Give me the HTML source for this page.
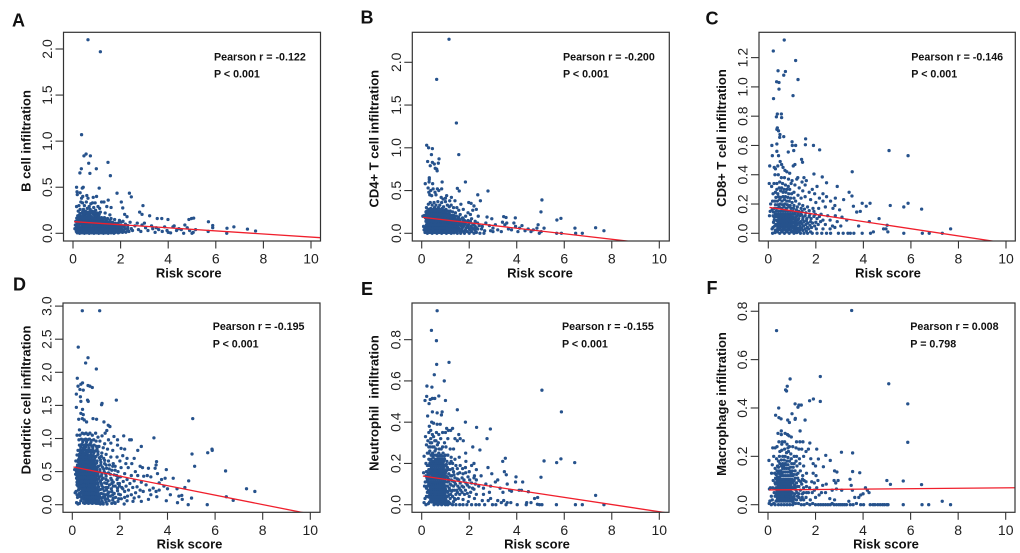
<!DOCTYPE html>
<html lang="en">
<head>
<meta charset="utf-8">
<title>Risk score versus immune cell infiltration</title>
<style>
html,body{margin:0;padding:0;background:#fff;width:1020px;height:553px;overflow:hidden}
svg{display:block}
text{font-family:"Liberation Sans",Arial,sans-serif}
</style>
</head>
<body>
<svg id="figure" xmlns="http://www.w3.org/2000/svg" width="1020" height="553" viewBox="0 0 1020 553"></svg>
<script>
const xTicks = [0,2,4,6,8,10];
const yTicksA = [0,0.5,1,1.5,2];
const yTicksB = [0,0.5,1,1.5,2];
const yTicksC = [0,0.2,0.4,0.6,0.8,1,1.2];
const yTicksD = [0,0.5,1,1.5,2,2.5,3];
const yTicksE = [0,0.2,0.4,0.6,0.8];
const yTicksF = [0,0.2,0.4,0.6,0.8];

const lineA = [0.127,-0.0168];
const lineB = [0.188,-0.0322];
const lineC = [0.178,-0.0245];
const lineD = [0.573,-0.0714];
const lineE = [0.14,-0.0174];
const lineF = [0.061,0.00087];

const pointsA = [[.63,2.1],[1.15,1.97],[.36,1.07],[.55,.86],[.46,.84],[.73,.84],[1.47,.77],[.66,.76],[.35,.7],[.29,.655],[.71,.65],[.98,.7],[1.57,.625],[.15,.5],[.43,.5],[.39,.49],[1.1,.49],[1.85,.435],[2.37,.435],[2.45,.395],[2.03,.34],[2.94,.3],[2.09,.275],[2.8,.23],[2.9,.205],[2.17,.205],[2.27,.18],[3.22,.19],[3.54,.16],[3.73,.16],[3.99,.15],[4.87,.15],[4.98,.16],[5.07,.165],[5.69,.125],[5.87,.085],[5.87,.06],[6.47,.055],[6.76,.07],[7.33,.045],[7.67,.025],[6.46,0],
[.17,.45],[.18,.42],[.3,.44],[.36,.38],[.41,.4],[.58,.41],[.63,.38],[.85,.39],[.99,.4],[1.48,.36],[1.2,.34],[1.3,.34],[1.42,.29],[1.6,.28],[.15,.29],[.25,.3],[.33,.34],[.4,.33],[.48,.3],[.56,.34],[.68,.29],[.75,.32],[.82,.33],[.93,.33],[1.05,.29],[1.12,.27],[.22,.24],[.3,.26],[.37,.22],[.44,.26],[.5,.24],[.6,.27],[.66,.23],[.72,.26],[.8,.24],[.87,.28],[.95,.25],[1.03,.22],[1.15,.23],[1.35,.22],[1.55,.2],[.2,.19],[.27,.2],[.34,.18],[.42,.2],[.48,.19],[.54,.21],[.62,.19],[.7,.2],[.77,.18],[.84,.21],[.91,.19],[.99,.18],[1.08,.18],[1.2,.17],[1.32,.17],[1.45,.16],[1.6,.16],[1.75,.15],[1.95,.14],
[.12,.13],[.2,.14],[.28,.15],[.36,.14],[.44,.15],[.52,.15],[.6,.14],[.68,.15],[.76,.14],[.84,.15],[.92,.14],[1,.14],[1.08,.14],[1.16,.13],[1.24,.14],[1.32,.12],[1.4,.13],[1.48,.12],[1.56,.12],[1.66,.12],[1.78,.11],[1.9,.11],[2.02,.12],
[.1,.09],[.18,.1],[.26,.1],[.34,.1],[.42,.1],[.5,.1],[.58,.1],[.66,.1],[.74,.1],[.82,.1],[.9,.1],[.98,.1],[1.06,.1],[1.14,.1],[1.22,.09],[1.3,.09],[1.38,.09],[1.46,.09],[1.54,.08],[1.62,.09],[1.72,.08],[1.82,.08],[1.94,.08],[2.06,.08],[2.2,.09],
[.08,.05],[.16,.06],[.24,.07],[.32,.06],[.4,.07],[.48,.06],[.56,.07],[.64,.06],[.72,.07],[.8,.06],[.88,.07],[.96,.06],[1.04,.07],[1.12,.06],[1.2,.06],[1.28,.06],[1.36,.05],[1.44,.06],[1.52,.05],[1.6,.06],[1.7,.05],[1.8,.05],[1.92,.05],[2.04,.05],[2.18,.05],
[.14,.02],[.22,.03],[.3,.03],[.38,.03],[.46,.03],[.54,.03],[.62,.03],[.7,.03],[.78,.03],[.86,.03],[.94,.03],[1.02,.03],[1.1,.03],[1.18,.03],[1.26,.03],[1.34,.03],[1.42,.02],[1.5,.03],[1.58,.02],[1.66,.03],[1.76,.02],[1.88,.02],[2,.02],[2.12,.02],[.18,.005],[.28,0],[.38,.005],[.48,0],[.58,.005],[.68,0],[.78,.005],[.88,0],[.98,.005],[1.08,0],[1.18,.005],[1.28,0],[1.38,.005],[1.48,0],[1.6,.005],[1.72,0],[1.9,.005],
[2.1,.13],[2.2,.1],[2.3,.06],[2.4,.12],[2.5,.03],[2.6,.08],[2.7,.11],[2.75,.04],[2.85,.02],[2.9,.09],[3,.11],[3.05,.06],[3.15,.03],[3.3,.08],[3.35,.05],[3.45,.01],[3.5,.06],[3.6,.04],[3.75,.02],[3.85,.07],[3.95,.03],[4,.01],[4.1,.005],[4.2,.07],[4.25,.08],[4.35,.03],[4.45,.05],[4.55,.04],[4.65,0],[4.7,.09],[4.8,.06],[4.9,.03],[5,0],[5.05,.01],[5.15,.04],[5.68,.02]];

const denseA = [[.22,.015],[.33,.012],[.41,.018],[.53,.014],[.61,.016],[.74,.012],[.83,.017],[.92,.014],[1.01,.016],[1.13,.012],[1.24,.015],[1.33,.014],[1.46,.012],[1.55,.016],[1.68,.012],[1.79,.011],[1.95,.012],[2.08,.01],[2.22,.012],[2.35,.02],
[.13,.04],[.27,.045],[.35,.048],[.44,.043],[.57,.046],[.66,.042],[.75,.047],[.87,.045],[.97,.044],[1.06,.047],[1.17,.043],[1.25,.046],[1.39,.04],[1.48,.044],[1.57,.04],[1.74,.036],[1.86,.038],[1.99,.037],[2.13,.036],[2.3,.035],[2.45,.05],
[.15,.075],[.23,.085],[.37,.082],[.46,.084],[.54,.08],[.63,.085],[.71,.082],[.85,.083],[.94,.08],[1.03,.085],[1.11,.078],[1.27,.075],[1.35,.076],[1.44,.072],[1.58,.07],[1.67,.068],[1.76,.068],[1.88,.066],[2,.07],[2.15,.072],[2.3,.085],
[.17,.115],[.29,.12],[.38,.12],[.47,.125],[.55,.12],[.65,.125],[.73,.12],[.81,.125],[.9,.12],[1,.125],[1.09,.12],[1.2,.115],[1.3,.105],[1.43,.105],[1.52,.1],[1.63,.105],[1.74,.1],[1.86,.095],
[.16,.165],[.24,.17],[.31,.165],[.38,.17],[.46,.17],[.52,.175],[.58,.165],[.66,.17],[.73,.165],[.8,.17],[.87,.165],[.95,.16],[1.03,.16],[1.15,.155],[1.28,.15],[1.4,.145],[1.55,.14],
[.3,.215],[.41,.235],[.47,.215],[.55,.235],[.63,.215],[.75,.225],[.84,.235],[.92,.22],[1,.205],[1.1,.205]];

const pointsB = [[1.15,2.27],[.63,1.8],[1.46,1.29],[.21,1.03],[.29,1],[.45,.99],[1.56,.92],[.41,.92],[.73,.87],[.25,.84],[.45,.83],[.53,.81],[.7,.82],[.36,.79],[.57,.76],[.63,.75],[.65,.73],[.32,.65],[.32,.63],[.31,.6],[.86,.6],[1.84,.6],[.15,.58],[.46,.58],[1.5,.525],[1.58,.495],[.27,.53],[2.79,.495],[5.06,.39],[2.36,.45],[5.02,.25],[2.47,.38],[5.69,.155],[5.86,.175],[7.32,.065],[7.67,.03],[6.45,.06],[6.48,0],[6.76,0],[5.68,0],[5.88,0],[2.75,.19],[2.95,.17],[3.45,.195],[3.55,.185],[3.94,.18],[5.15,.06],[4.9,.1],
[.3,.48],[.38,.5],[.48,.52],[.56,.48],[.66,.52],[.72,.5],[.84,.52],[.34,.45],[.42,.44],[.6,.45],[.82,.42],[1.05,.44],[1.25,.42],[.9,.4],[1,.41],[1.18,.38],[1.4,.38],[1.65,.34],[1.98,.36],[2.08,.35],[2.2,.32],[2.15,.27],[2.3,.28],[1.95,.24],[2.05,.22],[2.38,.2],
[.2,.3],[.28,.34],[.36,.36],[.44,.33],[.52,.36],[.6,.33],[.68,.37],[.76,.33],[.84,.36],[.92,.31],[1,.37],[1.08,.33],[1.16,.31],[1.24,.33],[1.34,.3],[1.48,.3],[1.56,.27],[1.75,.28],[.22,.26],[.3,.28],[.38,.29],[.46,.28],[.54,.3],[.62,.28],[.7,.3],[.78,.28],[.86,.29],[.94,.27],[1.02,.28],[1.1,.26],[1.2,.26],[1.3,.25],[1.42,.24],[1.62,.22],[1.85,.2],
[.12,.21],[.2,.22],[.28,.24],[.36,.24],[.44,.24],[.52,.25],[.6,.24],[.68,.25],[.76,.24],[.84,.24],[.92,.23],[1,.24],[1.08,.22],[1.16,.23],[1.24,.21],[1.34,.21],[1.46,.2],[1.56,.19],[1.72,.18],[.05,.2],[.16,.18],[.24,.2],[.32,.2],[.4,.2],[.48,.2],[.56,.2],[.64,.2],[.72,.2],[.8,.2],[.88,.19],[.96,.2],[1.04,.18],[1.12,.19],[1.2,.18],[1.3,.17],[1.4,.17],[1.5,.16],[1.62,.16],[1.8,.15],[1.95,.15],[2.1,.17],[2.25,.14],
[.2,.15],[.28,.16],[.36,.16],[.44,.16],[.52,.16],[.6,.16],[.68,.16],[.76,.16],[.84,.16],[.92,.15],[1,.16],[1.08,.15],[1.16,.15],[1.26,.14],[1.36,.14],[1.46,.13],[1.58,.13],[1.7,.12],[1.84,.12],[2,.12],[2.15,.11],[2.35,.12],[.24,.12],[.32,.12],[.4,.12],[.48,.12],[.56,.12],[.64,.12],[.72,.12],[.8,.12],[.88,.12],[.96,.12],[1.04,.12],[1.12,.12],[1.22,.11],[1.32,.11],[1.42,.1],[1.54,.1],[1.66,.09],[1.78,.09],[1.92,.09],[2.08,.08],[2.25,.08],[2.42,.09],
[.08,.08],[.16,.07],[.26,.08],[.34,.08],[.42,.08],[.5,.08],[.58,.08],[.66,.08],[.74,.08],[.82,.08],[.9,.08],[.98,.08],[1.06,.08],[1.14,.08],[1.24,.07],[1.34,.07],[1.46,.06],[1.58,.06],[1.7,.05],[1.86,.06],[2,.05],[2.18,.05],[2.36,.05],[2.52,.05],[.1,.04],[.2,.04],[.3,.04],[.38,.04],[.46,.04],[.54,.04],[.62,.04],[.7,.04],[.78,.04],[.86,.04],[.94,.04],[1.02,.04],[1.12,.04],[1.22,.03],[1.34,.03],[1.48,.02],[1.62,.02],[1.76,.02],[1.92,.02],[2.1,.02],[2.3,.01],[.14,.01],[.24,0],[.34,.01],[.44,0],[.54,.01],[.64,0],[.74,.01],[.84,0],[.94,.01],[1.04,0],[1.14,.01],[1.24,0],[1.36,.005],[1.5,0],[1.64,0],[1.8,0],[2,0],[2.2,0],[2.45,0],[2.62,0],
[2.55,.08],[2.7,.12],[2.85,.09],[2.9,.03],[3,.06],[3.1,.1],[3.2,.04],[3.35,.02],[3.4,.13],[3.5,.1],[3.58,.12],[3.65,.05],[3.78,.04],[3.88,.12],[3.95,.08],[4.05,.02],[4.12,.06],[4.22,.09],[4.35,.03],[4.48,.05],[4.6,.02],[4.7,.04],[4.85,.06],[4.95,0],[5.03,.02],[3,.02],[2.65,.03]];

const denseB = [[.22,.02],[.33,.022],[.41,.024],[.5,.02],[.6,.024],[.69,.021],[.8,.023],[.9,.02],[1,.024],[1.09,.02],[1.2,.018],[1.3,.016],[1.42,.015],[1.55,.04],[1.68,.035],[1.84,.035],[2.05,.035],[2.25,.035],
[.14,.06],[.28,.06],[.37,.062],[.47,.058],[.56,.062],[.65,.06],[.76,.058],[.85,.062],[.95,.06],[1.05,.058],[1.17,.055],[1.29,.05],[1.42,.045],[1.52,.08],[1.72,.07],[1.95,.07],[2.12,.065],[2.3,.065],
[.2,.1],[.3,.1],[.39,.102],[.49,.098],[.58,.102],[.68,.1],[.78,.098],[.87,.102],[.97,.1],[1.08,.098],[1.19,.095],[1.3,.09],[1.4,.085],[1.6,.11],[1.8,.105],[1.98,.105],[2.2,.1],
[.18,.14],[.3,.14],[.41,.14],[.5,.14],[.6,.14],[.7,.142],[.8,.14],[.9,.135],[1,.138],[1.12,.135],[1.22,.13],[1.33,.125],[1.45,.115],[1.6,.145],[1.75,.14],[1.9,.135],[2.05,.14],
[.22,.18],[.34,.18],[.43,.18],[.52,.18],[.62,.18],[.7,.18],[.78,.18],[.86,.175],[.98,.175],[1.1,.17],[1.25,.16],[1.38,.155],[1.55,.175],[1.75,.165],
[.18,.25],[.26,.22],[.35,.22],[.42,.22],[.5,.22],[.58,.22],[.66,.22],[.75,.22],[.83,.22],[.9,.21],[1,.21],[1.12,.21],[1.24,.19],[1.36,.19],
[.26,.26],[.35,.27],[.42,.26],[.5,.27],[.58,.26],[.66,.27],[.74,.26],[.82,.265],[.9,.25],[1.04,.255],[1.15,.25]];

const pointsC = [[.67,1.32],[.21,1.245],[1.15,1.18],[.41,1.11],[.72,1.105],[.65,1.08],[1.25,1.05],[.35,1.035],[.45,1.03],[.45,.985],[.22,.92],[1.04,.94],[.38,.815],[.55,.815],[.34,.795],[.56,.79],[.38,.72],[.36,.71],[.43,.7],[.49,.675],[.48,.655],[.65,.66],[1,.625],[1.57,.645],[1.56,.605],[1.9,.6],[2.16,.57],[1.01,.6],[1.15,.6],[.15,.6],[.36,.61],[.36,.56],[.17,.53],[.43,.53],[.84,.555],[1.07,.565],[1.4,.505],[1.44,.485],[5.08,.565],[5.88,.53],[3.53,.42],[1.92,.405],[2.27,.385],[.06,.46],[2.45,.345],[2.9,.32],[.04,.34],[3.95,.205],[4.28,.205],[4.12,.185],[5.13,.19],[5.7,.18],[5.88,.205],[6.45,.165],[7.67,.03],[7.32,0],[6.48,0],[6.77,0],[5.7,0],[3.4,.28],[3.52,.255],[3.17,.23],[3.58,.185],[3.87,.15],[3.72,.145],[4.66,.1],[4.25,.08],[5,.055],[4.85,.03],[4.95,.03],
[.25,.45],[.3,.44],[.4,.46],[.5,.49],[.56,.47],[.62,.45],[.7,.43],[.78,.42],[.9,.41],[1.05,.46],[1.12,.47],[1.24,.38],[1.5,.38],[1.6,.36],[.28,.4],[.42,.4],[.55,.38],[.68,.38],[.85,.37],[1,.36],[1.2,.37],[1.42,.35],[1.55,.33],[1.85,.3],[2.05,.32],[2.3,.27],[.14,.32],[.24,.34],[.36,.34],[.48,.35],[.6,.34],[.72,.33],[.84,.32],[.96,.34],[1.12,.33],[1.3,.31],[1.45,.29],[1.72,.28],[1.95,.27],[2.15,.24],[2.45,.25],[2.82,.24],[.2,.27],[.3,.28],[.4,.27],[.52,.29],[.62,.28],[.74,.28],[.86,.27],[.98,.27],[1.08,.28],[1.25,.26],[1.38,.24],[1.55,.25],[1.78,.23],[2,.21],[2.3,.22],[2.62,.22],[2.8,.19],
[.1,.2],[.18,.22],[.28,.22],[.38,.22],[.48,.23],[.58,.22],[.68,.23],[.78,.22],[.88,.22],[1,.21],[1.15,.22],[1.3,.2],[1.45,.19],[1.65,.18],[1.88,.17],[2.12,.17],[2.4,.18],[2.72,.17],[3,.16],[.08,.15],[.16,.16],[.26,.17],[.36,.17],[.46,.18],[.56,.17],[.66,.18],[.76,.17],[.86,.18],[.96,.17],[1.06,.17],[1.18,.16],[1.28,.15],[1.42,.15],[1.58,.14],[1.75,.13],[1.98,.13],[2.22,.13],[2.5,.12],[2.82,.12],[3.1,.11],[.05,.12],[.2,.12],[.3,.13],[.4,.13],[.5,.13],[.6,.13],[.7,.13],[.8,.13],[.9,.13],[1,.13],[1.1,.13],[1.2,.12],[1.32,.12],[1.46,.11],[1.62,.1],[1.8,.1],[2.05,.1],[2.3,.09],[2.6,.09],[2.9,.08],[3.3,.09],
[.16,.03],[.25,.09],[.34,.09],[.44,.1],[.54,.1],[.64,.1],[.74,.1],[.84,.1],[.94,.1],[1.04,.1],[1.14,.09],[1.24,.09],[1.36,.08],[1.5,.08],[1.66,.07],[1.86,.07],[2.1,.06],[2.4,.06],[2.7,.05],[.2,.04],[.32,.06],[.42,.07],[.52,.07],[.62,.07],[.72,.07],[.82,.07],[.92,.07],[1.02,.07],[1.12,.06],[1.22,.06],[1.34,.05],[1.48,.05],[1.64,.04],[1.82,.04],[2.02,.03],[2.3,.03],[2.6,.03],[2.8,.04],[3.05,.05],[3.8,.05],[.3,.02],[.4,.04],[.5,.04],[.6,.04],[.7,.04],[.8,.04],[.9,.04],[1,.04],[1.1,.03],[1.2,.03],[1.32,.02],[1.45,.02],[1.6,.015],[1.78,.01],[.18,0],[.28,.005],[.38,.01],[.48,0],[.58,.01],[.68,0],[.78,.01],[.88,0],[.98,.01],[1.08,0],[1.2,.005],[1.35,0],[1.5,0],[1.65,0],[1.85,0],[2.05,0],[2.25,0],[2.45,0],[2.62,0],[2.95,0],[3.15,0],[3.35,0],[3.45,0],[3.6,0],[3.95,0],[4.3,0],[4.42,.01],[5.03,.01]];

const denseC = [[.34,.022],[.44,.025],[.55,.02],[.65,.024],[.75,.02],[.85,.023],[.95,.021],[1.05,.018],[1.15,.015],[1.26,.012],[1.4,.035],[1.55,.03],[1.7,.03],
[.27,.05],[.37,.055],[.47,.055],[.57,.055],[.67,.055],[.77,.055],[.87,.055],[.97,.055],[1.07,.048],[1.17,.045],[1.28,.035],[1.42,.065],[1.58,.06],[1.75,.055],[1.95,.05],
[.22,.075],[.37,.085],[.47,.085],[.57,.085],[.67,.085],[.77,.085],[.87,.085],[.97,.085],[1.08,.08],[1.18,.075],[1.3,.07],[1.45,.095],[1.6,.085],[1.78,.08],[2,.075],[2.2,.08],
[.25,.11],[.35,.115],[.45,.115],[.55,.115],[.65,.115],[.75,.115],[.85,.115],[.95,.115],[1.05,.11],[1.16,.108],[1.28,.1],[1.4,.125],[1.55,.12],[1.72,.115],[1.92,.115],[2.15,.115],
[.22,.145],[.33,.15],[.43,.15],[.53,.15],[.63,.15],[.73,.15],[.83,.15],[.93,.15],[1.03,.15],[1.13,.145],[1.24,.135],[1.37,.135],[1.52,.165],[1.72,.155],[1.92,.15],
[.3,.195],[.4,.195],[.5,.2],[.6,.195],[.7,.2],[.8,.195],[.92,.19],[1.08,.19],[1.22,.18],[1.38,.17],
[.32,.245],[.42,.25],[.52,.245],[.62,.25],[.72,.25],[.82,.245],[.94,.24],[1.08,.24],[.36,.3],[.46,.31],[.56,.31],[.66,.3],[.78,.3],[.9,.3]];

const pointsD = [[.42,2.93],[1.15,2.93],[.25,2.38],[.66,2.22],[.56,2.14],[1.01,2.05],[.21,1.91],[.43,1.84],[.36,1.82],[.24,1.79],[.66,1.8],[.74,1.79],[.84,1.77],[.32,1.74],[.46,1.73],[.17,1.67],[1.85,1.58],[.34,1.63],[.36,1.56],[.64,1.58],[.67,1.56],[1.25,1.53],[1.23,1.51],[.17,1.47],[.43,1.44],[.36,1.38],[.46,1.36],[.87,1.3],[1.02,1.29],[5.06,1.3],[.27,1.29],[1.33,1.25],[1.51,1.2],[1.58,1.18],[3.43,1.01],[2.16,1.04],[2.41,.98],[2.48,.98],[2.9,.88],[5.87,.84],[5.88,.82],[5.69,.785],[5.03,.765],[6.44,.51],[5.14,.58],[7.32,.24],[7.67,.2],[6.47,.12],[6.76,.065],[5.67,0],[4.87,0],[5.01,.1],[4.89,.36],[4.73,.26],[4.24,.4],[3.95,.53],[3.54,.65],[.42,1.3],[.5,1.28],[.6,1.25],[.3,1.13],[1.45,1.12],[1.38,1.08],[1.75,1.03],[1.9,.98],[2.75,.82],[2.6,.7],[2.85,.58],[2.95,.56],[3.2,.55],[3.52,.6],[3.48,.55],[3.58,.47],[3.9,.4],[3.75,.38],[3.3,.42],[3.15,.44],[3,.43],
[.2,1.05],[.32,1.05],[.42,1.08],[.5,1.07],[.58,1.08],[.66,1.06],[.74,1.08],[.84,1.05],[.98,1.08],[1.08,1.02],[1.25,1.04],[1.52,.98],[.28,.98],[.38,.99],[.48,.98],[.56,.99],[.64,.98],[.72,.99],[.8,.97],[.9,.98],[1,.96],[1.16,.96],[1.36,.92],[1.62,.93],[1.9,.9],[2.05,.85],[2.2,.84],[.3,.9],[.4,.91],[.5,.9],[.58,.91],[.66,.9],[.74,.91],[.82,.89],[.92,.9],[1.02,.88],[1.12,.88],[1.3,.86],[1.48,.84],[1.7,.82],[.24,.82],[.34,.83],[.44,.82],[.52,.83],[.6,.82],[.68,.83],[.76,.82],[.86,.82],[.96,.81],[1.08,.8],[1.24,.78],[1.42,.76],[1.62,.72],[1.88,.72],[2.12,.74],[2.3,.7],[.2,.75],[.3,.76],[.38,.75],[.46,.76],[.54,.75],[.62,.76],[.7,.74],[.78,.75],[.88,.74],[1,.73],[1.14,.71],[1.32,.7],[1.52,.66],[1.72,.62],[2,.66],[2.25,.62],[2.5,.62],
[.15,.66],[.26,.68],[.34,.69],[.42,.68],[.5,.69],[.58,.68],[.66,.69],[.74,.68],[.82,.68],[.92,.67],[1.04,.66],[1.2,.64],[1.36,.62],[1.56,.6],[1.8,.58],[2.05,.56],[2.35,.56],[2.65,.5],[.22,.6],[.3,.62],[.38,.62],[.46,.62],[.54,.62],[.62,.62],[.7,.62],[.78,.62],[.86,.62],[.96,.61],[1.1,.58],[1.26,.57],[1.44,.55],[1.66,.52],[1.92,.5],[2.2,.47],[2.48,.44],[2.75,.44],[.1,.53],[.2,.54],[.28,.55],[.36,.56],[.44,.56],[.52,.56],[.6,.56],[.68,.56],[.76,.56],[.84,.56],[.92,.55],[1.02,.54],[1.16,.53],[1.34,.5],[1.52,.48],[1.76,.45],[2.02,.42],[2.3,.38],[2.6,.36],[2.9,.34],[.14,.46],[.24,.48],[.32,.49],[.4,.5],[.48,.5],[.56,.5],[.64,.5],[.72,.5],[.8,.5],[.88,.49],[.98,.49],[1.08,.48],[1.24,.46],[1.42,.43],[1.62,.4],[1.88,.38],[2.14,.35],[2.42,.32],[2.72,.27],[3.1,.3],[3.4,.25],[3.65,.33],
[.18,.4],[.26,.42],[.34,.43],[.42,.44],[.5,.44],[.58,.44],[.66,.44],[.74,.44],[.82,.44],[.9,.43],[1,.43],[1.12,.42],[1.3,.4],[1.5,.36],[1.72,.34],[1.98,.32],[2.26,.28],[2.54,.26],[2.85,.22],[3.25,.22],[3.52,.2],[3.85,.28],[.2,.34],[.28,.36],[.36,.37],[.44,.38],[.52,.38],[.6,.38],[.68,.38],[.76,.38],[.84,.38],[.92,.37],[1.04,.37],[1.18,.35],[1.36,.33],[1.56,.3],[1.8,.28],[2.08,.26],[2.36,.22],[2.66,.18],[2.98,.2],[3.3,.15],[3.65,.22],[4,.24],[4.4,.24],[.24,.28],[.32,.3],[.4,.31],[.48,.32],[.56,.32],[.64,.32],[.72,.32],[.8,.32],[.88,.32],[.96,.31],[1.08,.31],[1.24,.29],[1.42,.26],[1.64,.24],[1.9,.21],[2.2,.2],[2.48,.15],[2.8,.12],[3.55,.12],[3.95,.06],[4.12,.15],[4.48,.13],[4.6,.14],[.16,.2],[.28,.24],[.36,.25],[.44,.26],[.52,.26],[.6,.26],[.68,.26],[.76,.26],[.84,.26],[.94,.25],[1.04,.25],[1.18,.23],[1.34,.21],[1.54,.19],[1.76,.17],[2.02,.15],[2.32,.13],[2.6,.1],[2.9,.05],[3.2,.08],[4.42,.03],[4.62,.08],
[.2,.15],[.3,.17],[.38,.19],[.46,.2],[.54,.2],[.62,.2],[.7,.2],[.78,.2],[.86,.2],[.96,.19],[1.08,.19],[1.22,.17],[1.4,.15],[1.6,.13],[1.82,.11],[2.06,.09],[2.3,.06],[2.55,.05],[.12,.18],[.22,.11],[.34,.12],[.44,.14],[.52,.14],[.6,.14],[.68,.14],[.76,.14],[.84,.14],[.92,.14],[1.02,.13],[1.14,.13],[1.28,.11],[1.48,.09],[1.7,.07],[1.92,.05],[2.18,.01],[.18,.03],[.24,.01],[.3,.02],[.36,.06],[.48,.08],[.56,.08],[.64,.08],[.72,.08],[.8,.08],[.88,.08],[.98,.08],[1.1,.07],[1.24,.06],[1.42,.04],[1.66,.02],[.52,.02],[.6,.03],[.68,.02],[.76,.03],[.84,.02],[.92,.03],[1,.02],[1.08,.02],[1.18,.01],[1.3,.01],[1.46,.01],[1.8,.02]];

const denseD = [[.47,.03],[.57,.05],[.66,.05],[.74,.05],[.83,.05],[.93,.05],[1.03,.05],[1.14,.03],[1.28,.03],[1.38,.08],[1.55,.06],[1.78,.03],
[.4,.1],[.5,.11],[.58,.11],[.66,.11],[.74,.11],[.82,.11],[.9,.11],[.98,.11],[1.08,.1],[1.2,.1],[1.36,.12],[1.52,.13],[1.72,.1],[1.95,.09],[2.2,.11],
[.3,.15],[.42,.17],[.5,.17],[.58,.17],[.66,.17],[.74,.17],[.82,.17],[.9,.17],[.99,.16],[1.12,.16],[1.3,.16],[1.5,.17],[1.7,.15],[1.95,.16],
[.26,.22],[.4,.23],[.48,.23],[.56,.23],[.64,.23],[.72,.23],[.8,.23],[.88,.23],[.98,.22],[1.1,.22],[1.26,.24],[1.44,.22],[1.66,.2],[1.9,.25],[2.12,.24],
[.2,.3],[.3,.27],[.38,.28],[.46,.29],[.54,.29],[.62,.29],[.7,.29],[.78,.29],[.86,.29],[.96,.28],[1.1,.27],[1.3,.26],[1.5,.26],[1.72,.28],[1.98,.28],
[.26,.32],[.36,.33],[.44,.35],[.52,.35],[.6,.35],[.68,.35],[.76,.35],[.84,.35],[.94,.34],[1.06,.33],[1.22,.32],[1.44,.32],[1.66,.32],[1.92,.32],
[.22,.38],[.3,.4],[.4,.41],[.48,.41],[.56,.41],[.64,.41],[.72,.41],[.8,.41],[.88,.41],[.98,.4],[1.1,.39],[1.24,.38],[1.42,.38],[1.66,.37],[1.92,.41],
[.2,.44],[.3,.46],[.38,.47],[.46,.47],[.54,.47],[.62,.47],[.7,.47],[.78,.47],[.86,.47],[.96,.46],[1.08,.45],[1.22,.43],[1.4,.47],[1.6,.46],[1.86,.44],
[.18,.5],[.26,.52],[.34,.53],[.42,.53],[.5,.53],[.58,.53],[.66,.53],[.74,.53],[.82,.53],[.9,.52],[1.02,.51],[1.16,.5],[1.32,.54],[1.55,.54],[1.8,.52],
[.2,.57],[.28,.59],[.36,.59],[.44,.59],[.52,.59],[.6,.59],[.68,.59],[.76,.59],[.84,.59],[.94,.58],[1.06,.57],[1.2,.6],[1.42,.6],[1.7,.58],
[.24,.65],[.32,.65],[.4,.65],[.48,.65],[.56,.65],[.64,.65],[.72,.65],[.8,.65],[.9,.64],[1.02,.63],[1.18,.68],[1.36,.67],
[.3,.72],[.4,.72],[.5,.72],[.6,.72],[.7,.71],[.82,.72],[.94,.7],[1.08,.76],[1.22,.73],
[.34,.79],[.44,.79],[.56,.79],[.66,.79],[.78,.79],[.9,.78],[1.04,.84],[.36,.87],[.46,.86],[.56,.87],[.7,.86],[.86,.86],[.44,.95],[.6,.95],[.78,.94]];

const pointsE = [[.65,.94],[.41,.845],[.62,.795],[.63,.68],[1.15,.69],[.53,.63],[.95,.6],[.22,.575],[.43,.57],[5.06,.555],[.72,.527],[.21,.525],[.45,.515],[.55,.515],[.14,.505],[.31,.49],[.36,.51],[1,.505],[5.88,.45],[1.5,.46],[.45,.45],[.65,.445],[.86,.45],[.25,.43],[.83,.435],[1.84,.4],[2.31,.375],[2.89,.367],[2.75,.32],[2.15,.28],[2.45,.265],[3.52,.225],[3.41,.21],[5.86,.222],[5.15,.212],[5.68,.204],[6.44,.204],[5.02,.133],[7.32,.045],[7.67,0],[6.76,0],[6.47,0],[5.67,0],[5.06,0],[4.96,0],[4.87,.002],[3.97,.135],[3.95,.11],[4.25,.11],[4.49,.063],[4.88,.035],[4.75,.03],[2.79,.18],[2.95,.15],[3.48,.16],[3.56,.145],
[.42,.4],[.5,.395],[.65,.39],[.78,.39],[.32,.38],[.38,.36],[1.05,.37],[1.12,.36],[1.3,.37],[.3,.35],[.45,.34],[.62,.35],[.72,.34],[.88,.35],[1,.35],[1.22,.36],[1.56,.34],[.16,.33],[.26,.31],[.38,.32],[.5,.33],[.6,.31],[.8,.32],[.96,.3],[1.1,.32],[1.4,.32],[1.5,.31],[1.62,.32],[1.75,.31],[.2,.29],[.3,.28],[.42,.3],[.52,.28],[.66,.29],[.74,.27],[.88,.28],[1.02,.28],[1.2,.27],[1.34,.27],[.24,.25],[.34,.26],[.46,.25],[.56,.26],[.64,.24],[.72,.25],[.8,.24],[.9,.25],[1,.24],[1.1,.24],[1.24,.23],[1.4,.22],[1.58,.23],[1.85,.25],[1.86,.21],[2.2,.2],[.1,.235],[.18,.2],[.3,.22],[.4,.22],[.48,.23],[.56,.22],[.64,.22],[.72,.22],[.8,.22],[.88,.22],[.96,.22],[1.06,.21],[1.18,.2],[1.3,.2],[1.44,.19],[1.62,.19],[1.84,.18],[2.1,.19],[2.3,.17],[2.5,.14],[.24,.19],[.34,.2],[.42,.2],[.5,.2],[.58,.2],[.66,.2],[.74,.2],[.82,.2],[.9,.2],[.98,.19],[1.08,.18],[1.2,.17],[1.34,.16],[1.52,.15],[1.74,.15],[2,.16],[2.22,.14],[2.7,.1],
[.08,.155],[.2,.16],[.3,.17],[.4,.175],[.48,.175],[.56,.175],[.64,.175],[.72,.175],[.8,.175],[.88,.175],[.96,.17],[1.04,.165],[1.14,.15],[1.26,.14],[1.4,.13],[1.56,.12],[1.78,.12],[2.02,.12],[2.26,.1],[2.6,.08],[2.9,.09],[3.1,.11],[.18,.14],[.28,.145],[.38,.15],[.46,.15],[.54,.15],[.62,.15],[.7,.15],[.78,.15],[.86,.15],[.94,.15],[1.02,.14],[1.12,.125],[1.24,.12],[1.38,.11],[1.52,.09],[1.7,.09],[1.92,.095],[2.14,.08],[2.4,.09],[2.85,.06],[3.2,.12],[3.3,.08],[3.42,.06],[3.6,.1],[.15,.11],[.24,.12],[.34,.125],[.42,.125],[.5,.125],[.58,.125],[.66,.125],[.74,.125],[.82,.125],[.9,.125],[.98,.125],[1.08,.11],[1.2,.1],[1.34,.09],[1.48,.07],[1.64,.07],[1.84,.07],[2.06,.06],[2.3,.05],[2.6,.05],[2.9,.03],[3.45,.02],[3.7,.07],[3.78,.065],[4.1,.07],[4.2,.07],[.12,.09],[.2,.08],[.3,.1],[.38,.1],[.46,.1],[.54,.1],[.62,.1],[.7,.1],[.78,.1],[.86,.1],[.94,.1],[1.04,.09],[1.16,.08],[1.3,.07],[1.44,.05],[1.6,.05],[1.8,.05],[2,.04],[2.22,.03],[2.55,.02],[2.8,.02],[3.2,.02],[3.35,.01],[3.6,.01],[3.75,.01],[.2,.04],[.28,.07],[.36,.075],[.44,.075],[.52,.075],[.6,.075],[.68,.075],[.76,.075],[.84,.075],[.92,.075],[1,.075],[1.1,.06],[1.22,.05],[1.38,.03],[1.54,.03],[1.74,.025],[1.96,.015],[4.42,.01],[4.6,.01],[.1,.01],[.14,.03],[.26,.04],[.34,.05],[.42,.05],[.5,.05],[.58,.05],[.66,.05],[.74,.05],[.82,.05],[.9,.05],[.98,.05],[1.08,.04],[1.2,.03],[1.34,.015],[.18,0],[.28,.005],[.38,.025],[.46,.025],[.54,.025],[.62,.025],[.7,.025],[.78,.025],[.86,.025],[.94,.025],[1.02,.025],[1.12,.015],[.52,0],[.6,.005],[.68,0],[.76,.005],[.84,0],[.92,.005],[1,0],[1.1,0],[1.2,.005],[1.3,0],[1.44,0],[1.6,0],[1.74,0],[1.9,0],[2.1,0],[2.28,0],[2.42,0],[2.65,0],[2.98,0],[3.12,0],[3.55,0],[4.02,0],[4.4,0]];

const denseE = [[.33,.013],[.42,.013],[.5,.013],[.58,.014],[.66,.013],[.74,.014],[.82,.013],[.9,.014],[.98,.013],[1.06,.012],[1.15,.01],[1.3,.04],[1.42,.025],
[.3,.037],[.38,.038],[.46,.038],[.54,.038],[.62,.038],[.7,.038],[.78,.038],[.86,.038],[.94,.038],[1.02,.038],[1.14,.045],[1.26,.065],[1.5,.06],[1.7,.06],[1.92,.055],
[.24,.06],[.34,.062],[.42,.062],[.5,.062],[.58,.062],[.66,.062],[.74,.062],[.82,.062],[.9,.062],[.98,.062],[1.06,.065],[1.18,.07],[1.38,.07],[1.58,.08],[1.76,.085],[2,.085],[2.2,.075],
[.24,.09],[.34,.088],[.42,.088],[.5,.088],[.58,.088],[.66,.088],[.74,.088],[.82,.088],[.9,.088],[.98,.088],[1.08,.09],[1.24,.095],[1.42,.1],[1.62,.105],[1.86,.105],[2.1,.105],[2.3,.12],
[.26,.11],[.36,.112],[.44,.112],[.52,.112],[.6,.112],[.68,.112],[.76,.112],[.84,.112],[.92,.112],[1,.112],[1.14,.115],[1.3,.115],[1.5,.125],[1.7,.13],[1.95,.135],[2.2,.13],
[.22,.13],[.32,.135],[.42,.138],[.5,.138],[.58,.138],[.66,.138],[.74,.138],[.82,.138],[.9,.138],[.98,.138],[1.08,.135],[1.22,.14],[1.36,.145],[1.6,.155],[1.85,.155],
[.26,.155],[.35,.16],[.44,.163],[.52,.163],[.6,.163],[.68,.163],[.76,.163],[.84,.163],[.92,.163],[1,.155],[1.12,.17],[1.3,.175],[1.5,.175],[1.72,.175],
[.3,.19],[.38,.188],[.46,.188],[.54,.188],[.62,.188],[.7,.188],[.78,.188],[.86,.188],[.94,.185],[1.04,.195],[1.24,.21],
[.36,.215],[.44,.21],[.52,.21],[.6,.21],[.68,.21],[.76,.21],[.84,.21],[.92,.21],[.3,.25],[.4,.24],[.5,.24],[.6,.24],[.68,.235],[.76,.235],[.85,.235],[.95,.235],[.36,.28],[.46,.28],[.6,.27],[.7,.3],[.82,.27],[.36,.3],[.55,.31]];

const pointsF = [[3.52,.803],[.36,.72],[2.2,.53],[.93,.52],[5.08,.5],[.81,.49],[.74,.475],[.78,.47],[5.88,.417],[1.14,.417],[1.75,.43],[1.91,.437],[2.2,.427],[1.3,.412],[1.4,.412],[1.26,.403],[.45,.4],[1.01,.376],[.32,.37],[.46,.36],[.55,.355],[1.15,.357],[1.14,.353],[1.56,.35],[.83,.35],[.9,.34],[1.35,.305],[5.88,.258],[.56,.305],[3.09,.217],[3.56,.214],[.04,.183],[2.62,.183],[2.43,.204],[2.12,.189],[2.33,.157],[3.56,.137],[3.86,.132],[5,.1],[5.15,.084],[5.69,.098],[6.46,.083],[7.33,.014],[7.68,0],[6.76,0],[6.48,0],[5.69,0],
[.42,.295],[.56,.29],[.72,.295],[.82,.29],[.88,.285],[.98,.28],[.6,.26],[.46,.26],[.7,.26],[1.2,.26],[1.34,.26],[1.47,.26],[1.76,.255],[.3,.235],[.38,.24],[.5,.22],[.58,.25],[.8,.25],[.9,.24],[1.04,.24],[1.18,.235],[1.3,.23],[1.42,.23],[1.7,.23],[2.05,.23],[.2,.235],[.24,.2],[.36,.19],[.48,.2],[.62,.2],[.72,.2],[.78,.215],[.86,.22],[.96,.21],[1.1,.2],[1.2,.2],[1.32,.19],[1.5,.2],[1.6,.22],[1.8,.19],[.18,.165],[.3,.15],[.4,.16],[.5,.17],[.62,.17],[.72,.17],[.8,.18],[.9,.18],[1,.17],[1.1,.17],[1.22,.16],[1.34,.17],[1.5,.16],[1.62,.13],[1.9,.17],[2,.16],[.15,.13],[.28,.13],[.38,.14],[.46,.14],[.54,.14],[.62,.15],[.7,.15],[.78,.15],[.86,.15],[.94,.14],[1.02,.14],[1.14,.14],[1.26,.13],[1.46,.12],[1.52,.1],[1.9,.13],[2.02,.12],[2.1,.1],[2.3,.08],[2.45,.085],[2.8,.14],[2.9,.135],[2.78,.1],[2.95,.1],[2.85,.09],[.1,.07],[.22,.1],[.32,.11],[.4,.115],[.48,.115],[.56,.12],[.64,.12],[.72,.12],[.8,.12],[.88,.12],[.96,.12],[1.04,.12],[1.14,.11],[1.3,.1],[1.42,.085],[1.62,.075],[1.84,.095],[1.95,.09],[2.05,.07],[2.25,.05],[2.42,.05],[2.7,.06],[2.88,.065],[3.45,.105],[3.5,.08],[3.55,.06],[3.1,.06],[3.65,.03],[3.82,.03],[3.9,.04],[4,.045],[4.1,.07],[4.18,.06],[4.25,.05],[2.15,.04],[2.6,.025],[2.8,.02],
[.06,.065],[.2,.07],[.3,.09],[.38,.095],[.46,.095],[.54,.095],[.62,.095],[.7,.095],[.78,.095],[.86,.095],[.94,.095],[1.02,.095],[1.12,.08],[1.24,.075],[1.36,.06],[1.5,.05],[1.7,.05],[1.86,.05],[2,.03],[.14,.035],[.26,.05],[.34,.07],[.42,.075],[.5,.075],[.58,.075],[.66,.075],[.74,.075],[.82,.075],[.9,.075],[.98,.075],[1.06,.07],[1.18,.06],[1.3,.045],[1.44,.03],[1.6,.03],[1.78,.02],[.08,.015],[.18,.02],[.3,.035],[.38,.055],[.46,.055],[.54,.055],[.62,.055],[.7,.055],[.78,.055],[.86,.055],[.94,.055],[1.02,.05],[1.12,.045],[1.24,.035],[1.38,.02],[.36,.035],[.44,.035],[.52,.035],[.6,.035],[.68,.035],[.76,.035],[.84,.035],[.92,.035],[1,.03],[1.1,.025],[1.2,.02],[.05,.005],[.14,0],[.24,.005],[.34,.015],[.42,.015],[.5,.015],[.58,.015],[.66,.015],[.74,.015],[.82,.015],[.9,.015],[.98,.015],[1.06,.01],[1.16,.005],[1.28,.005],[1.4,0],[1.52,0],[1.64,.005],[1.76,0],[1.88,.005],[2,0],[2.12,0],[2.22,0],[2.32,0],[2.42,0],[2.52,0],[2.62,0],[2.7,.005],[2.78,0],[2.88,0],[2.98,0],[3.06,0],[3.14,0],[3.22,0],[3.3,0],[3.4,.014],[3.46,0],[3.58,0],[3.72,.005],[3.9,0],[4.02,0],[4.3,0],[4.42,0],[4.5,0],[4.62,0],[4.72,0],[4.82,0],[4.9,0],[5,0],[5.05,0],[.3,0],[.44,0],[.56,0],[.68,0],[.8,0],[.92,0],[1.04,0]];

const denseF = [[.4,.025],[.48,.025],[.56,.025],[.64,.025],[.72,.025],[.8,.025],[.88,.025],[.96,.022],[1.06,.018],[1.3,.03],[1.5,.02],
[.34,.045],[.42,.045],[.5,.045],[.58,.045],[.66,.045],[.74,.045],[.82,.045],[.9,.045],[.98,.042],[1.1,.035],[1.22,.05],[1.45,.045],[1.62,.05],[1.95,.06],
[.3,.065],[.38,.065],[.46,.065],[.54,.065],[.62,.065],[.7,.065],[.78,.065],[.86,.065],[.94,.065],[1.02,.065],[1.14,.07],[1.3,.075],[1.5,.07],[1.75,.07],
[.32,.085],[.4,.085],[.48,.085],[.56,.085],[.64,.085],[.72,.085],[.8,.085],[.88,.085],[.96,.085],[1.06,.09],[1.2,.09],[1.38,.095],[1.6,.095],
[.36,.105],[.44,.105],[.52,.105],[.6,.105],[.68,.105],[.76,.105],[.84,.105],[.92,.105],[1,.105],[1.1,.1],[1.25,.11],[1.45,.105],
[.34,.125],[.42,.13],[.5,.128],[.58,.13],[.66,.135],[.74,.135],[.82,.135],[.9,.135],[.98,.13],[1.08,.125],[1.2,.125],[1.36,.14],
[.44,.155],[.56,.16],[.66,.16],[.76,.165],[.84,.165],[.95,.155],[1.06,.155],[1.18,.18],[.44,.18],[.56,.185],[.68,.185],[.84,.195],[.98,.19],[.58,.225],[.7,.23],[.84,.235]];

const panels = [
 {id:'a',letter:'A',lx:12,ly:26.5,box:[63.5,320.5,32.3,241],x0:73,x10:311,y0:233.3,yScale:92.15,points:pointsA.concat(denseA),ticks:yTicksA,dec:1,line:lineA,ylabel:'B cell infiltration',ylx:30.7,yly:141,xlx:188.7,xly:277.7,tx:214,t1:'Pearson r = -0.122',t2:'P < 0.001',t1y:60.3,t2y:77.7},
 {id:'b',letter:'B',lx:360.5,ly:23.3,box:[412.3,669.3,32.3,241],x0:421.7,x10:659.3,y0:233.3,yScale:85.5,points:pointsB.concat(denseB),ticks:yTicksB,dec:1,line:lineB,ylabel:'CD4+ T cell infiltration',ylx:378.5,yly:138.7,xlx:540,xly:277.7,tx:563,t1:'Pearson r = -0.200',t2:'P < 0.001',t1y:60.3,t2y:77.7},
 {id:'c',letter:'C',lx:705.5,ly:24.3,box:[759,1015.3,32.3,241],x0:768.3,x10:1006,y0:233.3,yScale:146.4,points:pointsC.concat(denseC),ticks:yTicksC,dec:1,line:lineC,ylabel:'CD8+ T cell infiltration',ylx:726,yly:138,xlx:888,xly:277.7,tx:911.3,t1:'Pearson r = -0.146',t2:'P < 0.001',t1y:60.3,t2y:77.7},
 {id:'d',letter:'D',lx:13,ly:290.7,box:[63,320,303,512.3],x0:72.3,x10:310.3,y0:504.7,yScale:66.2,points:pointsD.concat(denseD),ticks:yTicksD,dec:1,line:lineD,ylabel:'Dendritic cell infiltration',ylx:30.3,yly:400,xlx:189.5,xly:548.3,tx:212.7,t1:'Pearson r = -0.195',t2:'P < 0.001',t1y:330,t2y:347.7},
 {id:'e',letter:'E',lx:361,ly:295,box:[412,669,303,512.3],x0:421.7,x10:659.3,y0:504.7,yScale:206.3,points:pointsE.concat(denseE),ticks:yTicksE,dec:1,line:lineE,ylabel:'Neutrophil  infiltration',ylx:378.5,yly:403,xlx:537,xly:548.3,tx:562,t1:'Pearson r = -0.155',t2:'P < 0.001',t1y:330,t2y:347.7},
 {id:'f',letter:'F',lx:706.5,ly:294,box:[758.7,1015,303,512.3],x0:768,x10:1005.7,y0:504.7,yScale:241.8,points:pointsF.concat(denseF),ticks:yTicksF,dec:1,line:lineF,ylabel:'Macrophage infiltration',ylx:726,yly:404,xlx:886,xly:548.3,tx:910.3,t1:'Pearson r = 0.008',t2:'P = 0.798',t1y:330,t2y:347.7}
];

const NS = 'http://www.w3.org/2000/svg';
const fig = document.getElementById('figure');
const INK = '#333';
const LABEL = '#222';

function make(tag, attrs, parent, content){
  const el = document.createElementNS(NS, tag);
  for (const k in attrs) el.setAttribute(k, attrs[k]);
  if (content !== undefined) el.textContent = content;
  parent.appendChild(el);
  return el;
}

panels.forEach(function(p){
  const xPos = function(v){ return p.x0 + v * (p.x10 - p.x0) / 10; };
  const yPos = function(v){ return p.y0 - v * p.yScale; };
  const g = make('g', {}, fig);
  
  

  const clip = make('clipPath', {id:'clip-' + p.id}, g);
  make('rect', {x:p.box[0], y:p.box[2], width:p.box[1]-p.box[0], height:p.box[3]-p.box[2]}, clip);

  const letter = make('text', {x:p.lx, y:p.ly, 'font-size':18, 'font-weight':'bold', fill:'#111'}, g, p.letter);
  
  

  const dots = make('g', {fill:'#26528c'}, g);
  
  
  p.points.forEach(function(pt){
    const dot = make('circle', {cx:xPos(pt[0]).toFixed(2), cy:yPos(pt[1]).toFixed(2), r:1.65}, dots);
    
    
  });

  const xa = xPos(0.05);
  const xb = xPos(10.6);
  const reg = make('line', {
    x1:xa, y1:yPos(p.line[0] + p.line[1] * 0.05),
    x2:xb, y2:yPos(p.line[0] + p.line[1] * 10.6),
    stroke:'#f01f2c', 'stroke-width':1.3, 'clip-path':'url(#clip-' + p.id + ')'
  }, g);
  
  

  const box = make('rect', {x:p.box[0], y:p.box[2], width:p.box[1]-p.box[0], height:p.box[3]-p.box[2], fill:'none', stroke:INK, 'stroke-width':1.2}, g);
  
  

  const xAxis = make('g', {}, g);
  
  
  xTicks.forEach(function(t){
    const px = xPos(t);
    const tick = make('line', {x1:px, x2:px, y1:p.box[3], y2:p.box[3] + 7.5, stroke:INK, 'stroke-width':1.1}, xAxis);
    
    
    const lab = make('text', {x:px, y:p.box[3] + 22.5, 'font-size':14, 'text-anchor':'middle', fill:LABEL}, xAxis, String(t));
    
    
  });

  const yAxis = make('g', {}, g);
  
  
  p.ticks.forEach(function(t){
    const py = yPos(t);
    const tick = make('line', {x1:p.box[0] - 8, x2:p.box[0], y1:py, y2:py, stroke:INK, 'stroke-width':1.1}, yAxis);
    
    
    const tx = p.box[0] - 11.5;
    const lab = make('text', {x:tx, y:py, 'font-size':14, 'text-anchor':'middle', fill:LABEL, transform:'rotate(-90 ' + tx + ' ' + py + ')'}, yAxis, t.toFixed(p.dec));
    
    
  });

  const xTitle = make('text', {x:p.xlx, y:p.xly, 'font-size':13, 'font-weight':'bold', 'text-anchor':'middle', fill:'#111'}, g, 'Risk score');
  
  

  const yTitle = make('text', {x:p.ylx, y:p.yly, 'font-size':13, 'font-weight':'bold', 'text-anchor':'middle', fill:'#111', style:'white-space:pre', transform:'rotate(-90 ' + p.ylx + ' ' + p.yly + ')'}, g, p.ylabel);
  
  

  const stat1 = make('text', {x:p.tx, y:p.t1y, 'font-size':10.7, 'font-weight':'bold', fill:'#111'}, g, p.t1);
  
  
  const stat2 = make('text', {x:p.tx, y:p.t2y, 'font-size':10.7, 'font-weight':'bold', fill:'#111'}, g, p.t2);
  
  
});
</script>
</body>
</html>
